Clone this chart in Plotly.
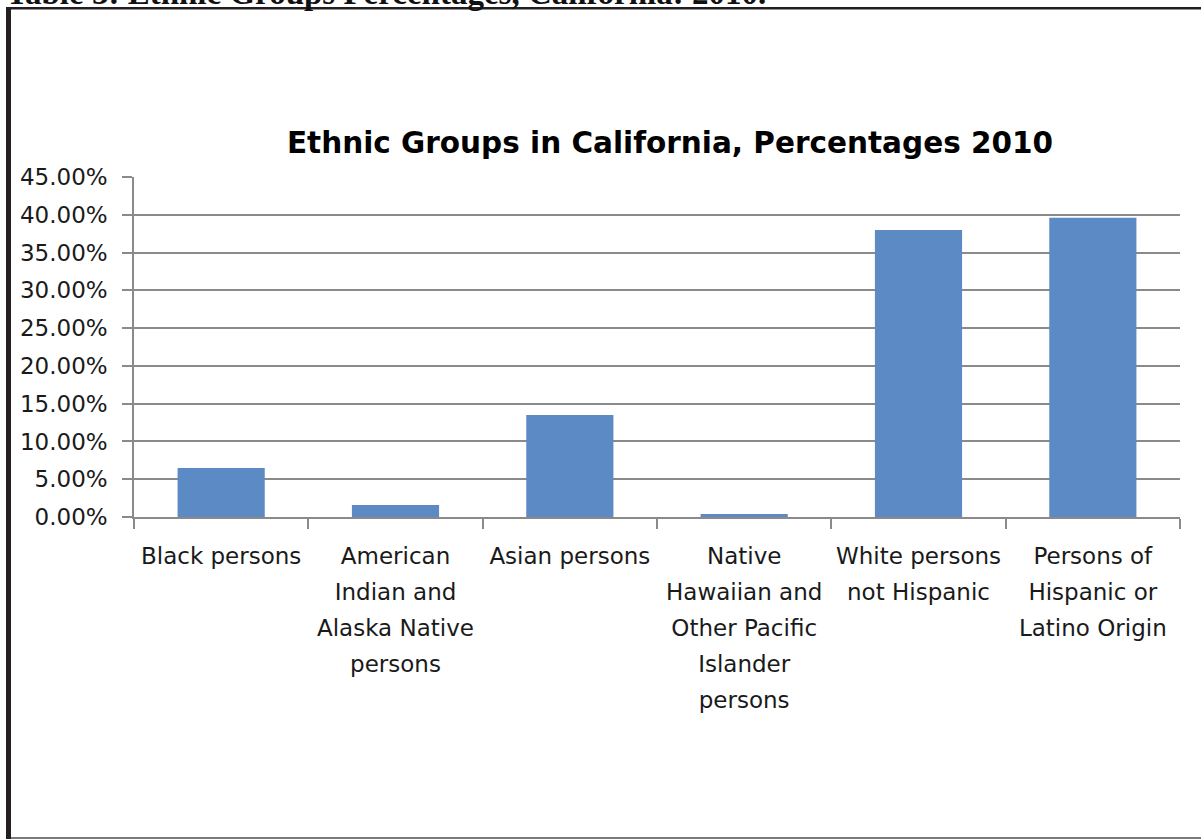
import plotly.graph_objects as go

# data
categories = [
    "Black persons",
    "American Indian and Alaska Native persons",
    "Asian persons",
    "Native Hawaiian and Other Pacific Islander persons",
    "White persons not Hispanic",
    "Persons of Hispanic or Latino Origin",
]
label_lines = [
    ["Black persons"],
    ["American", "Indian and", "Alaska Native", "persons"],
    ["Asian persons"],
    ["Native", "Hawaiian and", "Other Pacific", "Islander", "persons"],
    ["White persons", "not Hispanic"],
    ["Persons of", "Hispanic or", "Latino Origin"],
]
shares = [0.065, 0.016, 0.135, 0.004, 0.380, 0.396]
y_ticks = [0.0, 0.05, 0.10, 0.15, 0.20, 0.25, 0.30, 0.35, 0.40, 0.45]

W, H = 1201, 839
L, R, T, B = 134, 1180, 177, 517   # plot area in pixels


def px(x):
    return (x - L) / (R - L)


def py(y):
    return (B - y) / (B - T)


FONT = "DejaVu Sans, Open Sans, sans-serif"
LABEL_SIZE = 23
LINE_GAP = 36  # pixels between label lines in the reference
ticktext = [
    "<br>".join(f"<span style='font-size:{LABEL_SIZE}px'>{s}</span>" for s in lines)
    for lines in label_lines
]

fig = go.Figure()
fig.add_trace(go.Bar(
    x=categories,
    y=shares,
    width=0.5,
    marker=dict(color="#5B8AC5", line=dict(width=0)),
    hovertemplate="%{x}: %{y:.2%}<extra></extra>",
))

fig.update_layout(
    width=W,
    height=H,
    margin=dict(l=L, r=W - R, t=T, b=H - B, pad=0),
    paper_bgcolor="white",
    plot_bgcolor="white",
    showlegend=False,
    font=dict(family=FONT, color="#1a1a1a"),
    title=dict(
        text="<b>Ethnic Groups in California, Percentages 2010</b>",
        font=dict(size=29.5, color="black", family=FONT),
        x=px(670), xref="paper", xanchor="center",
        y=1 - 143 / H, yref="container", yanchor="middle",
    ),
)

fig.update_yaxes(
    range=[0, 0.45],
    tickvals=y_ticks,
    tickformat=".2%",
    tickfont=dict(size=LABEL_SIZE, color="#1a1a1a"),
    showgrid=True,
    gridcolor="#8a8a8a",
    gridwidth=1.5,
    showline=True,
    linecolor="#8a8a8a",
    linewidth=1.5,
    ticks="outside",
    ticklen=10,
    tickcolor="#8a8a8a",
    tickwidth=1.5,
    ticklabelstandoff=10,
    zeroline=False,
)
fig.update_xaxes(
    type="category",
    range=[-0.5, len(categories) - 0.5],
    tickvals=categories,
    ticktext=ticktext,
    tickfont=dict(size=LINE_GAP / 1.3, color="#1a1a1a"),
    tickangle=0,
    showline=True,
    linecolor="#8a8a8a",
    linewidth=1.5,
    ticks="outside",
    tickson="boundaries",
    ticklen=10,
    tickcolor="#8a8a8a",
    tickwidth=1.5,
    ticklabelstandoff=12,
    showgrid=False,
)

# page frame: thick left edge, top rule and grey bottom rule
frame = [
    dict(x0=6, x1=11, y0=H, y1=7, color="#231f20"),
    dict(x0=6, x1=W, y0=9.5, y1=7, color="#231f20"),
    dict(x0=11, x1=W, y0=H, y1=837, color="#7a7a7a"),
]
for f in frame:
    fig.add_shape(
        type="rect", xref="paper", yref="paper",
        x0=px(f["x0"]), x1=px(f["x1"]), y0=py(f["y0"]), y1=py(f["y1"]),
        fillcolor=f["color"], line=dict(width=0), layer="above",
    )

# document caption cut off by the top of the screenshot
fig.add_annotation(
    text="<b>Table 3: Ethnic Groups Percentages, California: 2010.</b>",
    xref="paper", yref="paper",
    x=px(4), y=py(13), xanchor="left", yanchor="bottom",
    showarrow=False,
    font=dict(family="Liberation Serif, serif", size=33, color="#111111"),
)

fig.write_html(
    "out.html",
    config={"displayModeBar": False},
    post_script="document.body.style.margin='0';",
)
